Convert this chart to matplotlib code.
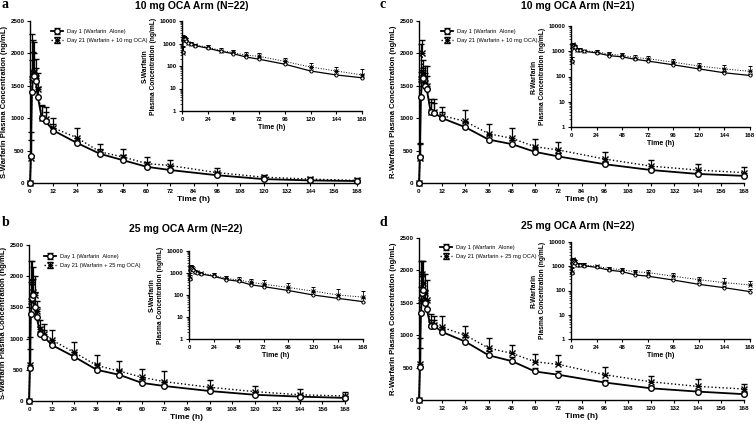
import numpy as np
import matplotlib
matplotlib.use("Agg")
import matplotlib.pyplot as plt
from matplotlib.ticker import LogLocator, NullFormatter

# sampling times (h)
time_h = [0, 0.5, 1, 1.5, 2, 3, 4, 6, 8, 12, 24, 36, 48, 60, 72, 96, 120, 144, 168]

# a: S-warfarin, 10 mg OCA arm
a_day1 = [0, 420, 1400, 1620, 1650, 1570, 1330, 1010, 950, 810, 620, 450, 350, 250, 200, 120, 60, 40, 30]
a_day1_sd = [0, 250, 500, 400, 350, 200, 150, 180, 150, 100, 80, 80, 80, 70, 60, 50, 30, 20, 15]
a_day21 = [0, 380, 1600, 1700, 1720, 1620, 1450, 1010, 990, 850, 700, 480, 400, 300, 270, 160, 90, 60, 40]
a_day21_sd = [0, 400, 700, 500, 450, 300, 250, 200, 180, 150, 150, 120, 120, 100, 90, 70, 40, 30, 30]

# b: S-warfarin, 25 mg OCA arm
b_day1 = [0, 530, 1400, 1650, 1700, 1500, 1350, 1080, 1030, 900, 710, 500, 420, 290, 240, 160, 100, 70, 50]
b_day1_sd = [0, 300, 500, 300, 250, 250, 150, 100, 100, 80, 80, 90, 70, 60, 60, 50, 40, 30, 25]
b_day21 = [0, 580, 1600, 1900, 1750, 1700, 1450, 1150, 1080, 980, 780, 570, 480, 380, 310, 220, 150, 100, 80]
b_day21_sd = [0, 450, 650, 350, 400, 300, 150, 150, 150, 150, 170, 170, 160, 140, 170, 120, 90, 90, 70]

# c: R-warfarin, 10 mg OCA arm
c_day1 = [0, 400, 1320, 1600, 1620, 1500, 1450, 1100, 1080, 1000, 860, 670, 600, 480, 410, 290, 200, 140, 110]
c_day1_sd = [0, 200, 400, 150, 150, 200, 200, 150, 150, 100, 80, 70, 70, 60, 50, 40, 30, 25, 20]
c_day21 = [0, 380, 1600, 2000, 1700, 1550, 1500, 1100, 1100, 1040, 950, 760, 690, 560, 510, 370, 260, 200, 160]
c_day21_sd = [0, 230, 550, 200, 200, 250, 300, 200, 200, 130, 180, 150, 160, 120, 130, 110, 90, 90, 90]

# d: R-warfarin, 25 mg OCA arm
d_day1 = [0, 510, 1340, 1650, 1700, 1500, 1400, 1140, 1140, 1050, 900, 690, 600, 440, 390, 270, 180, 130, 90]
d_day1_sd = [0, 300, 400, 300, 250, 200, 150, 100, 100, 80, 70, 60, 60, 50, 50, 40, 30, 25, 20]
d_day21 = [0, 560, 1550, 1950, 1800, 1650, 1550, 1180, 1150, 1120, 1000, 800, 720, 590, 550, 390, 280, 210, 170]
d_day21_sd = [0, 400, 600, 200, 350, 300, 300, 150, 150, 180, 140, 160, 130, 120, 140, 120, 90, 110, 80]

fig = plt.figure(figsize=(7.56, 4.24), dpi=100)
plt.rcParams['font.family'] = ['Liberation Sans', 'DejaVu Sans']


def style_axes(ax, fs):
    for s in ['top', 'right']:
        ax.spines[s].set_visible(False)
    for s in ['left', 'bottom']:
        ax.spines[s].set_linewidth(1.0)
    ax.tick_params(direction='out', length=2.5, width=0.8, labelsize=fs, pad=1.5)
    for lab in ax.get_xticklabels() + ax.get_yticklabels():
        lab.set_fontweight('bold')


def draw_panel(main_rect, inset_rect, d1, sd1, d21, sd21, drug, dose, n,
               title_xy, letter, letter_xy, legend_xy):
    t = np.array(time_h)
    d1, sd1, d21, sd21 = map(np.array, (d1, sd1, d21, sd21))
    zeros = np.zeros_like(sd1)

    ax = fig.add_axes(main_rect)
    ax.errorbar(t, d21, yerr=[zeros, sd21], fmt='x', ls=':', color='black', lw=1.0,
                ms=4, mew=1.0, elinewidth=0.9, capsize=2, capthick=0.9,
                label=f'Day 21 (Warfarin + {dose} mg OCA)', clip_on=False, zorder=3)
    ax.errorbar(t, d1, yerr=[zeros, sd1], fmt='o', ls='-', color='black', lw=1.3,
                ms=4, mfc='white', mew=1.0, elinewidth=0.9, capsize=2, capthick=0.9,
                label='Day 1 (Warfarin  Alone)', clip_on=False, zorder=4)
    ax.set_xlim(0, 168)
    ax.set_ylim(0, 2500)
    ax.set_xticks(range(0, 169, 12))
    ax.set_yticks(range(0, 2501, 500))
    ax.set_xlabel('Time (h)', fontsize=6, fontweight='bold', labelpad=2)
    ax.set_ylabel(f'{drug}-Warfarin Plasma Concentration (ng/mL)', fontsize=5.5,
                  fontweight='bold', labelpad=2)
    style_axes(ax, 4.5)
    h, l = ax.get_legend_handles_labels()
    ax.legend(h[::-1], l[::-1], loc='upper left', bbox_to_anchor=legend_xy,
              bbox_transform=fig.transFigure, frameon=False, fontsize=4.1,
              handlelength=2.2, borderpad=0, labelspacing=0.7, handletextpad=0.6)

    ins = fig.add_axes(inset_rect)
    m = t > 0
    ins.errorbar(t[m], d21[m], yerr=[zeros[m], sd21[m]], fmt='x', ls=':', color='black',
                 lw=0.7, ms=2.2, mew=0.7, elinewidth=0.6, capsize=1.2, capthick=0.6,
                 clip_on=False)
    ins.errorbar(t[m], d1[m], yerr=[zeros[m], sd1[m]], fmt='o', ls='-', color='black',
                 lw=0.9, ms=2.2, mfc='white', mew=0.7, elinewidth=0.6, capsize=1.2,
                 capthick=0.6, clip_on=False)
    ins.set_yscale('log')
    ins.set_xlim(0, 168)
    ins.set_ylim(1, 10000)
    ins.set_xticks(range(0, 169, 24))
    ins.set_yticks([1, 10, 100, 1000, 10000])
    ins.set_yticklabels(['1', '10', '100', '1000', '10000'])
    ins.yaxis.set_minor_locator(LogLocator(base=10, subs=np.arange(2, 10)))
    ins.yaxis.set_minor_formatter(NullFormatter())
    ins.tick_params(which='minor', length=1.2, width=0.5)
    ins.set_xlabel('Time (h)', fontsize=5, fontweight='bold', labelpad=1.5)
    ins.set_ylabel(f'{drug}-Warfarin\nPlasma Concentration (ng/mL)', fontsize=4.8,
                   fontweight='bold', labelpad=2, linespacing=1.3)
    style_axes(ins, 4.3)

    fig.text(title_xy[0], title_xy[1], f'{dose} mg OCA Arm (N={n})', fontsize=7.5,
             fontweight='bold', ha='center', va='center')
    fig.text(letter_xy[0], letter_xy[1], letter, fontsize=10, fontweight='bold',
             family='Liberation Serif', ha='left', va='center')


def fx(px):
    return px / 756


def fy(py):
    return 1 - py / 424


def rect(x0, x1, y0, y1):
    return [fx(x0), fy(y1), (x1 - x0) / 756, (y1 - y0) / 424]


draw_panel(rect(30, 357, 21, 183), rect(182, 362, 21, 111),
           a_day1, a_day1_sd, a_day21, a_day21_sd, 'S', 10, 22,
           (fx(192), fy(6)), 'a', (fx(1), fy(5)), (fx(48), fy(26)))
draw_panel(rect(29, 345, 245, 401), rect(189, 363, 251, 339),
           b_day1, b_day1_sd, b_day21, b_day21_sd, 'S', 25, 22,
           (fx(186), fy(229)), 'b', (fx(2), fy(222)), (fx(41), fy(251)))
draw_panel(rect(419, 744, 21, 183), rect(571, 750, 26, 127),
           c_day1, c_day1_sd, c_day21, c_day21_sd, 'R', 10, 21,
           (fx(578), fy(6)), 'c', (fx(380), fy(5)), (fx(438), fy(26)))
draw_panel(rect(419, 744, 238, 400), rect(571, 750, 242, 339),
           d_day1, d_day1_sd, d_day21, d_day21_sd, 'R', 25, 22,
           (fx(578), fy(226)), 'd', (fx(380), fy(222)), (fx(437), fy(242)))

fig.savefig('out.png', dpi=100)
